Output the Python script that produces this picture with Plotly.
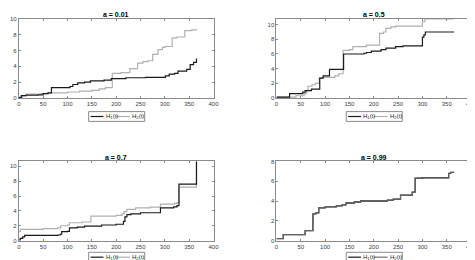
import plotly.graph_objects as go

# ---- data ----
titles = ["a = 0.01", "a = 0.5", "a = 0.7", "a = 0.99"]

p1_h1_x = [0, 5, 15, 40, 50, 60, 67, 105, 111, 121, 135, 147, 175, 190, 220, 260, 301, 309, 320, 327, 345, 352, 359, 365]
p1_h1_y = [0.05, 0.3, 0.35, 0.4, 0.55, 0.65, 1.3, 1.45, 1.7, 1.9, 2.0, 2.15, 2.25, 2.45, 2.55, 2.6, 2.8, 3.0, 3.1, 3.4, 3.6, 4.2, 4.5, 5.0]
p1_h2_x = [0, 8, 15, 45, 60, 100, 125, 150, 165, 178, 192, 210, 228, 244, 255, 265, 275, 286, 295, 300, 315, 325, 341, 355, 366]
p1_h2_y = [0.1, 0.3, 0.5, 0.55, 0.65, 0.75, 0.85, 0.95, 1.15, 1.3, 3.1, 3.2, 3.7, 4.4, 4.6, 4.7, 5.5, 6.1, 6.4, 6.5, 7.6, 7.7, 8.5, 8.6, 8.6]

p2_h1_x = [0, 27, 54, 59, 72, 89, 96, 109, 138, 180, 185, 195, 215, 225, 245, 260, 300, 303, 306, 365]
p2_h1_y = [0.1, 0.6, 0.8, 1.0, 1.2, 2.7, 3.0, 3.9, 6.0, 6.1, 6.2, 6.4, 6.6, 6.8, 7.0, 7.1, 8.3, 8.6, 9.0, 9.0]
p2_h2_x = [0, 40, 57, 62, 65, 73, 80, 88, 95, 120, 128, 137, 150, 157, 185, 212, 220, 225, 235, 245, 300, 305, 365]
p2_h2_y = [0.1, 0.3, 0.6, 1.0, 1.6, 1.8, 2.0, 2.7, 2.8, 3.0, 3.3, 6.5, 6.6, 7.0, 7.2, 8.8, 9.0, 9.5, 9.7, 9.8, 10.4, 10.8, 10.8]

p3_h1_x = [0, 3, 8, 12, 80, 85, 88, 100, 104, 120, 135, 170, 200, 215, 218, 222, 230, 250, 291, 318, 325, 329, 364, 365]
p3_h1_y = [0.05, 0.3, 0.5, 0.7, 0.75, 0.85, 1.2, 1.25, 1.7, 1.8, 1.95, 2.1, 2.2, 2.6, 3.2, 3.5, 3.6, 3.75, 4.4, 4.55, 4.7, 7.6, 7.6, 15]
p3_h2_x = [0, 3, 50, 80, 86, 100, 104, 130, 148, 200, 212, 216, 222, 240, 270, 291, 320, 325, 329, 364, 365]
p3_h2_y = [1.2, 1.5, 1.6, 1.7, 2.0, 2.1, 2.4, 2.5, 3.3, 3.4, 3.6, 3.9, 4.2, 4.4, 4.5, 4.9, 5.0, 5.1, 7.2, 7.2, 15]

p4_h1_x = [0, 14, 59, 75, 81, 87, 100, 123, 135, 143, 160, 173, 228, 240, 255, 279, 285, 300, 354, 358, 365]
p4_h1_y = [0.2, 0.6, 1.0, 2.7, 2.8, 3.3, 3.4, 3.5, 3.6, 3.8, 3.9, 4.0, 4.1, 4.2, 4.6, 4.9, 6.3, 6.35, 6.8, 6.9, 6.9]
p4_h2_x = [0, 14, 59, 75, 81, 87, 100, 123, 135, 143, 160, 173, 228, 240, 255, 279, 285, 300, 354, 358, 365]
p4_h2_y = [0.2, 0.6, 1.0, 2.7, 2.8, 3.3, 3.4, 3.5, 3.6, 3.8, 3.9, 4.0, 4.1, 4.2, 4.6, 4.9, 6.3, 6.35, 6.8, 6.9, 6.9]

x_ticks = [0, 50, 100, 150, 200, 250, 300, 350, 400]
y_ranges = [10, 10.8, 10.66, 8]
legend_labels = ["H<sub>1</sub>(t)", "H<sub>2</sub>(t)"]

series = [
    (p1_h1_x, p1_h1_y, p1_h2_x, p1_h2_y),
    (p2_h1_x, p2_h1_y, p2_h2_x, p2_h2_y),
    (p3_h1_x, p3_h1_y, p3_h2_x, p3_h2_y),
    (p4_h1_x, p4_h1_y, p4_h2_x, p4_h2_y),
]

# ---- layout geometry (pixels) ----
W, H = 475, 260
boxes = [(9, 207, 8, 89), (271, 469, 8, 89), (9, 207, 154, 235), (271, 469, 154, 235)]
legend_tops = [103, 103, 247, 247]

def px(x):
    return x / W

def py(y):
    return 1 - y / H

BLACK = "#1a1a1a"
GRAY = "#b0b0b0"
AX = "#8a8a8a"
FONT = "Liberation Sans"

fig = go.Figure()
shapes = []
annotations = []

for i, (x1, y1, x2, y2) in enumerate(series):
    n = i + 1
    xa = "x" if n == 1 else f"x{n}"
    ya = "y" if n == 1 else f"y{n}"
    if i == 3:
        fig.add_trace(go.Scatter(x=x1, y=y1, mode="lines", line=dict(color=BLACK, width=1.3, shape="hv"),
                                 xaxis=xa, yaxis=ya, showlegend=False, name="H1(t)"))
        fig.add_trace(go.Scatter(x=x2, y=y2, mode="lines", line=dict(color="#707070", width=1.0, shape="hv"),
                                 xaxis=xa, yaxis=ya, showlegend=False, name="H2(t)"))
    else:
        fig.add_trace(go.Scatter(x=x2, y=y2, mode="lines", line=dict(color=GRAY, width=1.2, shape="hv"),
                                 xaxis=xa, yaxis=ya, showlegend=False, name="H2(t)"))
        fig.add_trace(go.Scatter(x=x1, y=y1, mode="lines", line=dict(color=BLACK, width=1.2, shape="hv"),
                                 xaxis=xa, yaxis=ya, showlegend=False, name="H1(t)"))

    l, r, t, b = boxes[i]
    axcommon = dict(showline=True, mirror="ticks", linecolor=AX, linewidth=1, ticks="inside",
                    ticklen=2, tickcolor=AX, showgrid=False, zeroline=False,
                    tickfont=dict(size=6, color="#404040", family=FONT))
    xkey = "xaxis" if n == 1 else f"xaxis{n}"
    ykey = "yaxis" if n == 1 else f"yaxis{n}"
    fig.update_layout(**{
        xkey: dict(domain=[px(l), px(r)], range=[0, 400], tickvals=x_ticks, anchor=ya, **axcommon),
        ykey: dict(domain=[py(b), py(t)], range=[0, y_ranges[i]], dtick=2, anchor=xa, **axcommon),
    })

    # title
    annotations.append(dict(text=f"<b>{titles[i]}</b>", x=px((l + r) / 2), y=py(t - 4.5), xref="paper", yref="paper",
                            showarrow=False, xanchor="center", yanchor="middle",
                            font=dict(size=7, color="#000000", family=FONT)))

    # legend box (manual)
    lx = 80 if i in (0, 2) else 342
    lt = legend_tops[i]
    shapes.append(dict(type="rect", xref="paper", yref="paper", x0=px(lx), x1=px(lx + 57),
                       y0=py(lt + 10), y1=py(lt), line=dict(color=AX, width=1), fillcolor="white"))
    ly = lt + 5
    shapes.append(dict(type="line", xref="paper", yref="paper", x0=px(lx + 2), x1=px(lx + 15),
                       y0=py(ly), y1=py(ly), line=dict(color=BLACK, width=1.2)))
    shapes.append(dict(type="line", xref="paper", yref="paper", x0=px(lx + 28), x1=px(lx + 42),
                       y0=py(ly), y1=py(ly), line=dict(color=GRAY if i < 3 else "#707070", width=1.2)))
    annotations.append(dict(text=legend_labels[0], x=px(lx + 15.5), y=py(ly), xref="paper", yref="paper",
                            showarrow=False, xanchor="left", yanchor="middle",
                            font=dict(size=6, color="#222222", family=FONT)))
    annotations.append(dict(text=legend_labels[1], x=px(lx + 42.5), y=py(ly), xref="paper", yref="paper",
                            showarrow=False, xanchor="left", yanchor="middle",
                            font=dict(size=6, color="#222222", family=FONT)))

fig.update_layout(width=W, height=H, margin=dict(l=0, r=0, t=0, b=0),
                  paper_bgcolor="white", plot_bgcolor="white", shapes=shapes, annotations=annotations,
                  font=dict(family=FONT))

fig.write_html("out.html")
